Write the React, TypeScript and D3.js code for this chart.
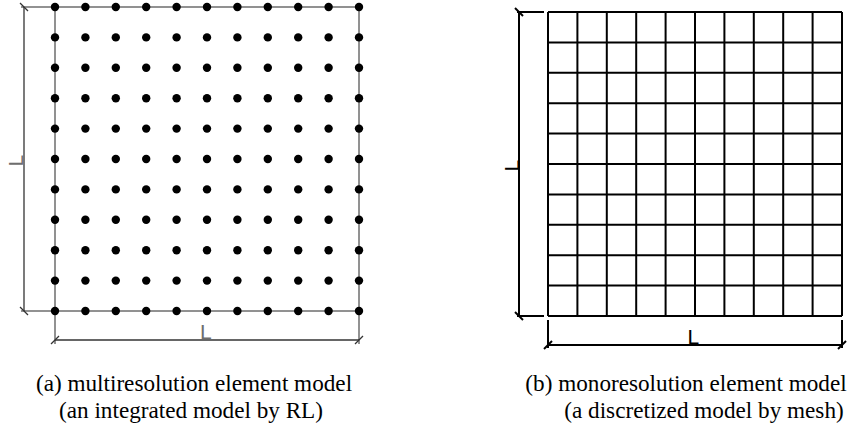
import * as d3 from 'd3';

// grid node indices (0..10) along each side
const NODES = [0, 1, 2, 3, 4, 5, 6, 7, 8, 9, 10];

const CAPTIONS_A = ['(a) multiresolution element model', '(an integrated model by RL)'];
const CAPTIONS_B = ['(b) monoresolution element model', '(a discretized model by mesh)'];
const DIM_LABEL = 'L';

const W = 853;
const H = 439;

const GRAY = '#6e6e6e';
const SERIF = "'Liberation Serif', 'Times New Roman', Times, 'Nimbus Roman', 'Noto Serif', 'DejaVu Serif', serif";
const SANS = "'Liberation Sans', 'DejaVu Sans', sans-serif";

// short architectural tick mark at (x, y); dir = 1 for "/" , -1 for "\"
const Tick = ({ x, y, dir, color, w }: { x: number; y: number; dir: number; color: string; w: number }) => (
    <line x1={x - 4} y1={y + 4 * dir} x2={x + 4} y2={y - 4 * dir} stroke={color} strokeWidth={w} />
);

const App = () => {
    // panel (a): nodes on a square
    const ax = d3.scaleLinear().domain([0, 10]).range([55, 359]);
    const ay = d3.scaleLinear().domain([0, 10]).range([7, 311]);
    // panel (b): mesh
    const bx = d3.scaleLinear().domain([0, 10]).range([548, 842]);
    const by = d3.scaleLinear().domain([0, 10]).range([12, 316]);

    return (
        <svg width={W} height={H} style={{ position: 'absolute', left: 0, top: 0, background: '#fff' }}>
            {/* ---------- panel (a) ---------- */}
            <g>
                {/* frame */}
                <rect x={ax(0)} y={ay(0)} width={ax(10) - ax(0)} height={ay(10) - ay(0)}
                    fill="none" stroke={GRAY} strokeWidth={1.5} />
                {/* extension lines */}
                <line x1={21} y1={ay(0)} x2={ax(0)} y2={ay(0)} stroke={GRAY} strokeWidth={1.5} />
                <line x1={21} y1={ay(10)} x2={ax(0)} y2={ay(10)} stroke={GRAY} strokeWidth={1.5} />
                <line x1={ax(0)} y1={ay(10)} x2={ax(0)} y2={344} stroke={GRAY} strokeWidth={1.5} />
                <line x1={ax(10)} y1={ay(10)} x2={ax(10)} y2={344} stroke={GRAY} strokeWidth={1.5} />
                {/* dimension lines */}
                <line x1={24} y1={ay(0)} x2={24} y2={ay(10)} stroke="#333" strokeWidth={1.3} />
                <line x1={ax(0)} y1={340} x2={ax(10)} y2={340} stroke="#333" strokeWidth={1.3} />
                <Tick x={24} y={ay(0)} dir={-1} color="#333" w={1.3} />
                <Tick x={24} y={ay(10)} dir={-1} color="#333" w={1.3} />
                <Tick x={ax(0)} y={340} dir={1} color="#333" w={1.3} />
                <Tick x={ax(10)} y={340} dir={1} color="#333" w={1.3} />
                {/* nodes */}
                {NODES.map((i) =>
                    NODES.map((j) => (
                        <circle key={`n${i}-${j}`} cx={ax(i)} cy={ay(j)} r={4.2} fill="#000" />
                    ))
                )}
                <text transform="translate(23,166.5) rotate(-90)" fill={GRAY} fontFamily={SANS} fontSize={21}>{DIM_LABEL}</text>
                <text x={200} y={338.5} fill={GRAY} fontFamily={SANS} fontSize={21}>{DIM_LABEL}</text>
            </g>

            {/* ---------- panel (b) ---------- */}
            <g>
                {NODES.map((i) => (
                    <line key={`v${i}`} x1={bx(i)} y1={by(0)} x2={bx(i)} y2={by(10)} stroke="#000" strokeWidth={2} />
                ))}
                {NODES.map((j) => (
                    <line key={`h${j}`} x1={bx(0)} y1={by(j)} x2={bx(10)} y2={by(j)} stroke="#000" strokeWidth={2} />
                ))}
                {/* extension lines */}
                <line x1={517} y1={by(0)} x2={544} y2={by(0)} stroke="#000" strokeWidth={2} />
                <line x1={517} y1={by(10)} x2={544} y2={by(10)} stroke="#000" strokeWidth={2} />
                <line x1={bx(0)} y1={320} x2={bx(0)} y2={348} stroke="#000" strokeWidth={2} />
                <line x1={bx(10)} y1={320} x2={bx(10)} y2={348} stroke="#000" strokeWidth={2} />
                {/* dimension lines */}
                <line x1={519} y1={by(0)} x2={519} y2={by(10)} stroke="#000" strokeWidth={2} />
                <line x1={bx(0)} y1={345} x2={bx(10)} y2={345} stroke="#000" strokeWidth={2} />
                <Tick x={519} y={by(0)} dir={-1} color="#000" w={2} />
                <Tick x={519} y={by(10)} dir={-1} color="#000" w={2} />
                <Tick x={bx(0)} y={345} dir={1} color="#000" w={2} />
                <Tick x={bx(10)} y={345} dir={1} color="#000" w={2} />
                <text transform="translate(518.5,171.5) rotate(-90)" fill="#000" fontFamily={SANS} fontSize={21}>{DIM_LABEL}</text>
                <text x={687.5} y={343.5} fill="#000" fontFamily={SANS} fontSize={21}>{DIM_LABEL}</text>
            </g>

            {/* ---------- captions ---------- */}
            <g fontFamily={SERIF} fontSize={23.2} fill="#000" textAnchor="middle">
                <text x={194} y={391}>{CAPTIONS_A[0]}</text>
                <text x={191} y={418}>{CAPTIONS_A[1]}</text>
                <text x={686} y={391}>{CAPTIONS_B[0]}</text>
                <text x={704} y={418}>{CAPTIONS_B[1]}</text>
            </g>
        </svg>
    );
};

export default App;
